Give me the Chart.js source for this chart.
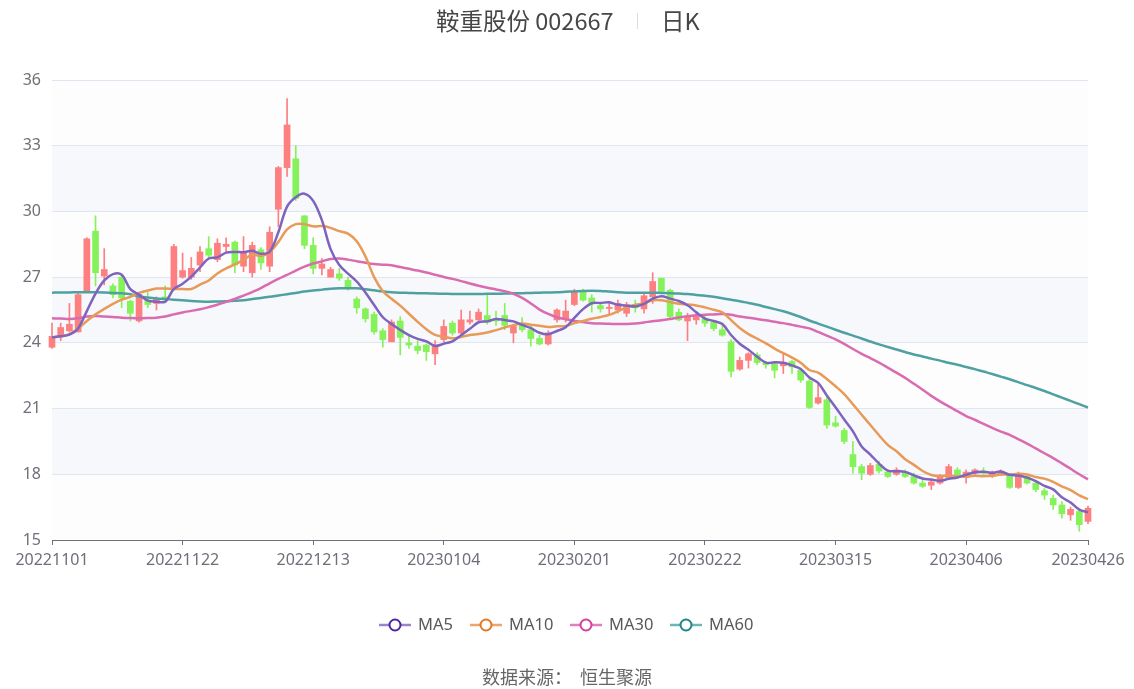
<!DOCTYPE html>
<html>
<head>
<meta charset="utf-8">
<script src="https://cdn.jsdelivr.net/npm/chart.js@4.4.1/dist/chart.umd.min.js"></script>
<style>
  html, body { margin: 0; padding: 0; background: #fff; }
  #wrap { width: 1134px; height: 689px; }
</style>
</head>
<body>
<div id="wrap"><canvas id="kChart" width="1134" height="689"></canvas></div>
<script>
// trading days
const dates = [
  '20221101','20221102','20221103','20221104','20221107','20221108','20221109','20221110','20221111','20221114',
  '20221115','20221116','20221117','20221118','20221121','20221122','20221123','20221124','20221125','20221128',
  '20221129','20221130','20221201','20221202','20221205','20221206','20221207','20221208','20221209','20221212',
  '20221213','20221214','20221215','20221216','20221219','20221220','20221221','20221222','20221223','20221226',
  '20221227','20221228','20221229','20221230','20230103','20230104','20230105','20230106','20230109','20230110',
  '20230111','20230112','20230113','20230116','20230117','20230118','20230119','20230120','20230130','20230131',
  '20230201','20230202','20230203','20230206','20230207','20230208','20230209','20230210','20230213','20230214',
  '20230215','20230216','20230217','20230220','20230221','20230222','20230223','20230224','20230227','20230228',
  '20230301','20230302','20230303','20230306','20230307','20230308','20230309','20230310','20230313','20230314',
  '20230315','20230316','20230317','20230320','20230321','20230322','20230323','20230324','20230327','20230328',
  '20230329','20230330','20230331','20230403','20230404','20230406','20230407','20230410','20230411','20230412',
  '20230413','20230414','20230417','20230418','20230419','20230420','20230421','20230424','20230425','20230426'
];

const openP = [
  23.8, 24.3, 24.55, 24.5, 26.35, 29.1, 27.05, 26.6, 27.0, 25.9,
  25.0, 25.95, 25.8, 26.1, 26.5, 27.0, 27.0, 27.55, 28.3, 27.8,
  28.4, 28.6, 27.5, 27.2, 28.25, 27.5, 30.1, 32.0, 32.4, 29.8,
  28.45, 27.4, 27.0, 27.15, 26.85, 26.0, 25.55, 25.3, 24.55, 24.05,
  25.0, 24.0, 23.85, 23.9, 23.5, 24.15, 24.9, 24.45, 24.95, 25.05,
  25.25, 25.1, 25.25, 24.45, 24.85, 24.6, 24.2, 23.95, 25.05, 25.1,
  25.75, 26.35, 26.05, 25.7, 25.57, 25.5, 25.35, 25.75, 25.55, 26.1,
  26.95, 26.4, 25.4, 25.0, 25.05, 25.1, 24.95, 24.6, 24.05, 22.8,
  23.2, 23.45, 23.1, 23.05, 22.95, 23.15, 22.75, 22.25, 21.25, 21.4,
  20.35, 20.0, 18.9, 18.35, 18.0, 18.45, 18.1, 18.0, 18.1, 17.9,
  17.6, 17.5, 17.6, 17.85, 18.2, 17.85, 18.05, 18.15, 17.95, 18.0,
  17.95, 17.4, 17.9, 17.6, 17.25, 16.9, 16.6, 16.15, 16.3, 15.85
];
const closeP = [
  24.3, 24.7, 24.85, 26.2, 28.75, 27.2, 27.35, 26.2, 26.05, 25.35,
  26.2, 25.75, 26.0, 25.95, 28.4, 27.3, 27.4, 28.15, 28.0, 28.55,
  28.5, 27.55, 28.1, 28.45, 27.65, 29.05, 32.0, 33.95, 30.6, 28.45,
  27.4, 27.6, 27.35, 26.95, 26.5, 25.6, 25.1, 24.5, 24.15, 24.95,
  24.25, 23.9, 23.65, 23.6, 23.9, 24.75, 24.45, 25.05, 25.05, 25.4,
  24.95, 25.0, 24.8, 24.75, 24.6, 24.2, 23.95, 24.45, 25.5, 25.45,
  26.35, 25.95, 25.8, 25.55, 25.62, 25.8, 25.75, 25.6, 26.15, 26.8,
  26.35, 25.2, 25.05, 25.2, 25.2, 24.9, 24.65, 24.35, 22.7, 23.2,
  23.5, 23.1, 23.0, 22.75, 23.1, 22.9, 22.3, 21.05, 21.5, 20.25,
  20.2, 19.5, 18.35, 18.05, 18.4, 18.15, 17.9, 18.2, 17.9, 17.6,
  17.45, 17.65, 17.9, 18.35, 17.9, 18.1, 18.2, 18.05, 18.1, 18.15,
  17.4, 18.0, 17.6, 17.3, 17.05, 16.6, 16.2, 16.4, 15.7, 16.45
];
const lowP = [
  23.75, 24.1, 24.5, 24.5, 26.3, 26.6, 26.65, 26.05, 25.6, 25.0,
  24.95, 25.6, 25.5, 25.85, 26.45, 26.95, 26.9, 27.25, 27.9, 27.7,
  28.1, 27.2, 27.25, 27.0, 27.35, 27.25, 29.3, 31.6, 30.5, 28.3,
  27.15, 27.1, 27.0, 26.85, 26.4, 25.35, 24.95, 24.4, 23.8, 24.05,
  23.45, 23.75, 23.5, 23.2, 23.0, 24.05, 24.35, 24.25, 24.85, 24.95,
  24.85, 24.8, 24.6, 24.0, 24.5, 23.85, 23.9, 23.9, 24.95, 24.95,
  25.7, 25.9, 25.4, 25.4, 25.3, 25.35, 25.2, 25.4, 25.35, 25.8,
  26.3, 25.1, 25.0, 24.1, 24.85, 24.75, 24.55, 24.3, 22.45, 22.75,
  22.85, 23.0, 22.85, 22.4, 22.6, 22.6, 22.2, 21.0, 21.2, 20.1,
  20.15, 19.4, 18.05, 17.75, 17.95, 18.05, 17.85, 17.95, 17.85, 17.55,
  17.4, 17.3, 17.55, 17.75, 17.8, 17.6, 17.95, 17.95, 17.85, 17.95,
  17.35, 17.35, 17.55, 17.2, 16.85, 16.4, 16.0, 15.9, 15.4, 15.75
];
const highP = [
  24.9, 24.9, 25.8, 26.3, 28.8, 29.8, 28.3, 26.7, 27.1, 25.95,
  26.2, 26.3, 26.1, 26.6, 28.5, 28.1, 27.9, 28.4, 28.85, 28.75,
  28.8, 28.65, 28.85, 28.6, 28.35, 29.3, 32.05, 35.15, 33.0, 29.8,
  28.8, 27.85, 27.45, 27.4, 27.0, 26.1, 25.6, 25.4, 24.65, 25.05,
  25.2, 24.35, 24.1, 23.95, 24.1, 25.05, 25.0, 25.5, 25.45, 25.55,
  26.2, 25.45, 25.8, 24.85, 25.15, 24.8, 24.35, 24.55, 25.55, 25.95,
  26.45, 26.45, 26.2, 25.85, 25.8, 25.95, 25.85, 25.95, 26.25, 27.2,
  26.95, 26.45, 25.55, 25.35, 25.4, 25.3, 25.0, 24.8, 24.15, 23.35,
  23.55, 23.55, 23.15, 23.15, 23.5, 23.2, 22.85, 22.4, 22.15, 21.5,
  20.65, 20.1, 19.5, 18.45, 18.5, 18.6, 18.2, 18.3, 18.2, 18.05,
  17.8, 17.75, 18.0, 18.45, 18.3, 18.2, 18.25, 18.3, 18.15, 18.2,
  18.0, 18.1, 18.0, 17.7, 17.35, 17.05, 16.75, 16.5, 16.4, 16.55
];

const ma5 = [
  24.25, 24.3, 24.38, 24.66, 25.45, 26.25, 26.85, 27.14, 27.11, 26.45,
  26.2, 25.93, 25.88, 25.88, 26.46, 26.7, 27.02, 27.44, 27.85, 27.9,
  28.12, 28.15, 28.14, 28.2, 28.07, 28.16, 29.05, 30.22, 30.65, 30.81,
  30.48, 29.6, 28.28, 27.55, 27.16, 26.8, 26.3, 25.73, 25.17, 24.86,
  24.59, 24.35, 24.18, 24.07, 23.86, 23.96, 24.07, 24.35, 24.64, 24.94,
  24.98, 25.09, 25.04, 24.98, 24.82, 24.67, 24.46, 24.39, 24.54, 24.71,
  25.14, 25.54, 25.81, 25.82, 25.85, 25.74, 25.7, 25.66, 25.78, 26.02,
  26.13, 26.02, 25.91, 25.72, 25.4, 25.11, 25.0, 24.86, 24.36, 23.96,
  23.68, 23.37, 23.1, 23.11, 23.09, 22.97, 22.81, 22.42, 22.17, 21.6,
  21.06, 20.5, 19.96, 19.27, 18.9, 18.49, 18.17, 18.14, 18.11, 17.95,
  17.81, 17.76, 17.7, 17.79, 17.85, 17.98, 18.09, 18.12, 18.07, 18.12,
  17.98, 17.94, 17.85, 17.69, 17.47, 17.31, 16.95, 16.71, 16.39, 16.27
];
const ma10 = [
  24.25, 24.3, 24.4, 24.65, 25.0, 25.3, 25.55, 25.78, 25.97, 26.1,
  26.28, 26.39, 26.48, 26.48, 26.46, 26.46, 26.46, 26.66, 26.85, 27.17,
  27.4, 27.58, 27.79, 28.02, 27.97, 28.14, 28.6, 29.18, 29.42, 29.42,
  29.32, 29.33, 29.25, 29.1, 28.99, 28.64, 27.95, 27.0, 26.36, 26.01,
  25.7, 25.33, 24.96, 24.62, 24.36, 24.28, 24.21, 24.27, 24.36, 24.4,
  24.47, 24.58, 24.7, 24.81, 24.88, 24.83, 24.78, 24.72, 24.76, 24.77,
  24.9, 25.0, 25.1, 25.18, 25.28, 25.44, 25.62, 25.74, 25.8, 25.94,
  25.94, 25.86, 25.79, 25.75, 25.71, 25.62, 25.51, 25.39, 25.04, 24.68,
  24.4, 24.19, 23.98, 23.74, 23.53, 23.33, 23.09, 22.76, 22.64, 22.35,
  22.02, 21.66, 21.19, 20.72, 20.25, 19.78, 19.34, 19.05, 18.69, 18.43,
  18.15, 17.97, 17.92, 17.95, 17.9, 17.9, 17.93, 17.91, 17.93, 17.99,
  17.98, 18.02, 17.99, 17.88, 17.8, 17.65, 17.45, 17.28, 17.04, 16.87
];
const ma30 = [
  25.12, 25.11, 25.09, 25.12, 25.2, 25.23, 25.2, 25.18, 25.15, 25.13,
  25.12, 25.13, 25.15, 25.2, 25.3, 25.39, 25.46, 25.53, 25.63, 25.74,
  25.87, 26.0, 26.16, 26.32, 26.5, 26.72, 26.92, 27.1, 27.3, 27.48,
  27.62, 27.72, 27.83, 27.85, 27.8, 27.73, 27.66, 27.6, 27.57, 27.54,
  27.46, 27.38, 27.3, 27.21, 27.11, 27.01, 26.92, 26.82, 26.71, 26.61,
  26.52, 26.44, 26.36, 26.24, 26.05, 25.8, 25.52, 25.32, 25.17, 25.08,
  25.0, 24.95, 24.9, 24.88, 24.87, 24.86, 24.86, 24.88, 24.93, 24.99,
  25.03, 25.09, 25.16, 25.22, 25.26, 25.28, 25.3, 25.32, 25.28, 25.2,
  25.15, 25.09, 25.03, 24.96, 24.9, 24.82, 24.74, 24.66, 24.5, 24.33,
  24.16, 23.95, 23.72, 23.5, 23.3, 23.1, 22.87, 22.64, 22.4, 22.13,
  21.86, 21.58, 21.33, 21.1, 20.88, 20.66, 20.49, 20.3, 20.12, 19.95,
  19.8, 19.6, 19.4, 19.18, 18.96, 18.74, 18.5, 18.25, 18.0, 17.77
];
const ma60 = [
  26.29, 26.3, 26.3, 26.31, 26.31, 26.31, 26.3, 26.28, 26.26, 26.22,
  26.12, 26.07, 26.03, 26.0, 25.97, 25.94, 25.91, 25.89, 25.88, 25.89,
  25.9, 25.92, 25.95, 26.0, 26.05, 26.1, 26.16, 26.22, 26.28, 26.34,
  26.39, 26.43, 26.47, 26.49, 26.49, 26.49, 26.45, 26.4, 26.35, 26.31,
  26.29, 26.28, 26.27, 26.26, 26.25, 26.24, 26.23, 26.23, 26.23, 26.23,
  26.24, 26.24, 26.25, 26.26, 26.27, 26.28, 26.29, 26.3, 26.31, 26.33,
  26.35, 26.37, 26.38, 26.37, 26.34, 26.31, 26.29, 26.29, 26.29, 26.29,
  26.28, 26.27, 26.25, 26.23, 26.19, 26.15, 26.1, 26.04, 25.97, 25.9,
  25.82, 25.74, 25.64, 25.54, 25.44, 25.32, 25.18, 25.02, 24.88, 24.74,
  24.6, 24.46, 24.33, 24.2, 24.06, 23.93, 23.81, 23.7, 23.58, 23.47,
  23.38, 23.28, 23.19, 23.09, 23.0, 22.9, 22.8, 22.69, 22.58, 22.46,
  22.34, 22.21, 22.07, 21.94, 21.8, 21.65, 21.5, 21.35, 21.2, 21.05
];

const tickIdx = [0, 15, 30, 45, 60, 75, 90, 105, 119];
const maNames = ['MA5', 'MA10', 'MA30', 'MA60'];
const lineColors = ['#7e63bf', '#e89a58', '#d96bb0', '#4fa1a1'];
const iconColors = ['#4d27a0', '#e07a22', '#d43f9b', '#1f8585'];
const iconLineColors = ['#9a85cc', '#eca46c', '#e07fbd', '#6fb5b5'];

const UP = '#fd7f7f';
const DOWN = '#86f25a';
const candleColors = openP.map((o, i) => closeP[i] >= o ? UP : DOWN);

Chart.defaults.font.family = "'Noto Sans', 'Noto Sans CJK SC', sans-serif";

const bandPlugin = {
  id: 'bands',
  beforeDraw(chart) {
    const { ctx, chartArea, scales } = chart;
    const y = scales.y;
    ctx.save();
    for (let v = 15, k = 0; v < 36; v += 3, k++) {
      const top = y.getPixelForValue(v + 3);
      const bot = y.getPixelForValue(v);
      ctx.fillStyle = k % 2 === 0 ? 'rgba(250,250,250,0.3)' : 'rgba(210,219,238,0.2)';
      ctx.fillRect(chartArea.left, top, chartArea.right - chartArea.left, bot - top);
    }
    ctx.restore();
  }
};

const textPlugin = {
  id: 'texts',
  afterDraw(chart) {
    const ctx = chart.ctx;
    ctx.save();
    // title
    ctx.textBaseline = 'middle';
    ctx.textAlign = 'left';
    ctx.fillStyle = '#464646';
    ctx.font = "23.5px 'Noto Sans CJK SC', sans-serif";
    ctx.fillText('鞍重股份 002667', 436, 21);
    ctx.fillText('日K', 661, 21);
    ctx.fillStyle = '#dcdcdc';
    ctx.fillRect(637, 13, 1, 16);

    // legend
    const cx = [395, 486, 586, 686];
    ctx.font = "16.5px 'Noto Sans', sans-serif";
    maNames.forEach((name, i) => {
      const y = 625;
      ctx.strokeStyle = iconLineColors[i];
      ctx.lineWidth = 2.5;
      ctx.beginPath();
      ctx.moveTo(cx[i] - 16, y);
      ctx.lineTo(cx[i] + 16, y);
      ctx.stroke();
      ctx.beginPath();
      ctx.arc(cx[i], y, 5.5, 0, Math.PI * 2);
      ctx.fillStyle = '#fff';
      ctx.fill();
      ctx.strokeStyle = iconColors[i];
      ctx.lineWidth = 2;
      ctx.stroke();
      ctx.fillStyle = '#595959';
      ctx.fillText(name, cx[i] + 23, y);
    });

    // source
    ctx.textAlign = 'center';
    ctx.fillStyle = '#666';
    ctx.font = "18px 'Noto Sans CJK SC', sans-serif";
    ctx.fillText('数据来源：  恒生聚源', 567, 677);
    ctx.restore();
  }
};

const lineSets = [ma5, ma10, ma30, ma60].map((d, i) => ({
  type: 'line',
  label: maNames[i],
  data: d,
  borderColor: lineColors[i],
  borderWidth: 2.5,
  pointRadius: 0,
  tension: 0.35,
  fill: false,
  order: 0
}));

const ctx = document.getElementById('kChart').getContext('2d');
const kChart = new Chart(ctx, {
  type: 'bar',
  data: {
    labels: dates,
    datasets: [
      ...lineSets,
      {
        type: 'bar',
        label: 'wick',
        data: lowP.map((l, i) => [l, highP[i]]),
        backgroundColor: candleColors,
        barThickness: 1,
        grouped: false,
        clip: false,
        order: 2
      },
      {
        type: 'bar',
        label: 'body',
        data: openP.map((o, i) => [o, closeP[i]]),
        backgroundColor: candleColors,
        barThickness: 6,
        minBarLength: 1,
        grouped: false,
        clip: false,
        order: 1
      }
    ]
  },
  options: {
    responsive: false,
    animation: false,
    layout: { padding: { top: 80, left: 0, right: 46, bottom: 119 } },
    plugins: {
      legend: { display: false },
      title: { display: false },
      tooltip: { enabled: false }
    },
    scales: {
      x: {
        type: 'category',
        offset: false,
        afterFit(scale) { scale.height = 30; },
        grid: {
          offset: false,
          drawOnChartArea: false,
          drawTicks: true,
          tickLength: 5,
          tickColor: c => tickIdx.includes(c.index) ? '#6e7079' : 'rgba(0,0,0,0)'
        },
        border: { color: '#6e7079', width: 1 },
        ticks: {
          autoSkip: false,
          maxRotation: 0,
          minRotation: 0,
          padding: 6,
          color: '#6e7079',
          font: { size: 16 },
          callback: (v, i) => tickIdx.includes(i) ? dates[i] : ''
        }
      },
      y: {
        min: 15,
        max: 36,
        afterFit(scale) { scale.width = 52; },
        grid: { color: '#e0e6f1', drawTicks: false },
        border: { display: false },
        ticks: {
          stepSize: 3,
          padding: 11,
          color: '#6e7079',
          font: { size: 16 }
        }
      }
    }
  },
  plugins: [bandPlugin, textPlugin]
});
</script>
</body>
</html>
